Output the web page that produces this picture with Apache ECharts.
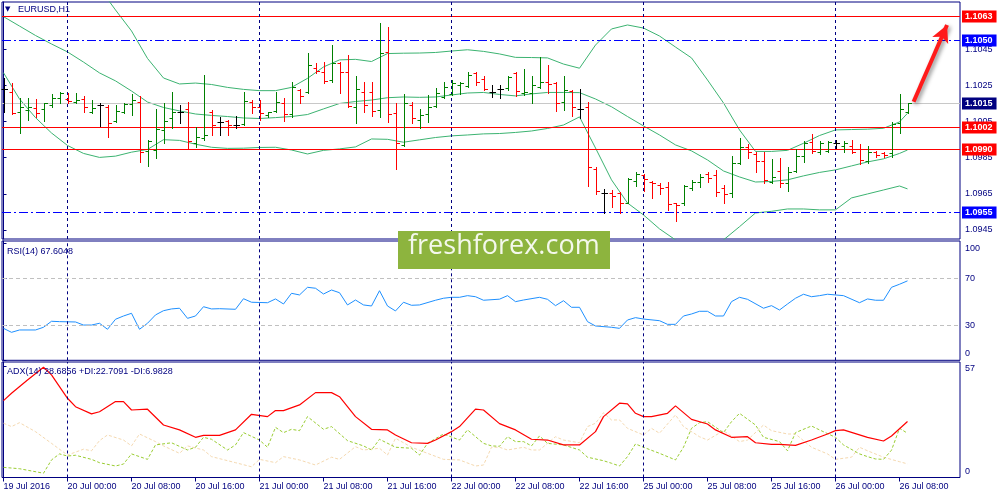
<!DOCTYPE html>
<html><head><meta charset="utf-8">
<script src="https://cdn.jsdelivr.net/npm/echarts@6/dist/echarts.min.js"></script>
<style>html,body{margin:0;padding:0;background:#fff}#c{width:1000px;height:500px}</style>
</head><body><div id="c"></div>
<script>
// ---------- data ----------
const timeLabels = ['19 Jul 2016','20 Jul 00:00','20 Jul 08:00','20 Jul 16:00','21 Jul 00:00','21 Jul 08:00','21 Jul 16:00','22 Jul 00:00','22 Jul 08:00','22 Jul 16:00','25 Jul 00:00','25 Jul 08:00','25 Jul 16:00','26 Jul 00:00','26 Jul 08:00'];
const timeLabelIdx = [0,8,16,24,32,40,48,56,64,72,80,88,96,104,112];
const dayStartIdx = [8,32,56,80,104];

const opens = [1.10228,1.10214,1.10102,1.10113,1.10123,1.10117,1.10141,1.10178,1.10172,1.10159,1.10172,1.10104,1.10141,1.10128,1.10052,1.10104,1.10146,1.10159,1.09888,1.09892,1.10003,1.10067,1.10104,1.10117,1.09933,1.09961,1.10104,1.10049,1.10054,1.10030,1.10036,1.10159,1.10127,1.10086,1.10105,1.10152,1.10091,1.10224,1.10214,1.10344,1.10325,1.10279,1.10375,1.10325,1.10128,1.10214,1.10214,1.10113,1.10435,1.10095,1.09920,1.10141,1.10058,1.10091,1.10135,1.10187,1.10202,1.10251,1.10248,1.10319,1.10283,1.10214,1.10228,1.10233,1.10319,1.10209,1.10209,1.10239,1.10270,1.10261,1.10159,1.10220,1.10117,1.10128,1.09786,1.09656,1.09653,1.09656,1.09601,1.09723,1.09754,1.09717,1.09699,1.09689,1.09601,1.09598,1.09681,1.09717,1.09760,1.09751,1.09681,1.09656,1.09822,1.09907,1.09870,1.09833,1.09717,1.09778,1.09708,1.09778,1.09859,1.09938,1.09883,1.09888,1.09933,1.09914,1.09914,1.09896,1.09833,1.09883,1.09877,1.09877,1.10040,1.10104];
const highs = [1.10288,1.10261,1.10178,1.10178,1.10172,1.10154,1.10200,1.10214,1.10206,1.10209,1.10191,1.10168,1.10150,1.10141,1.10141,1.10150,1.10202,1.10191,1.09947,1.10117,1.10154,1.10214,1.10141,1.10159,1.10021,1.10307,1.10113,1.10073,1.10058,1.10080,1.10214,1.10168,1.10166,1.10104,1.10214,1.10178,1.10270,1.10231,1.10430,1.10375,1.10380,1.10472,1.10380,1.10417,1.10301,1.10270,1.10270,1.10596,1.10573,1.10154,1.10202,1.10159,1.10117,1.10196,1.10233,1.10270,1.10279,1.10270,1.10325,1.10325,1.10301,1.10251,1.10251,1.10301,1.10325,1.10338,1.10301,1.10404,1.10362,1.10270,1.10301,1.10224,1.10228,1.10159,1.09800,1.09675,1.09671,1.09662,1.09736,1.09772,1.09760,1.09723,1.09708,1.09717,1.09601,1.09699,1.09726,1.09760,1.09772,1.09779,1.09699,1.09859,1.09957,1.09925,1.09883,1.09883,1.09841,1.09846,1.09797,1.09896,1.09944,1.09981,1.09944,1.09944,1.09947,1.09944,1.09947,1.09925,1.09914,1.09888,1.09883,1.10049,1.10202,1.10154];
const lows = [1.10104,1.10091,1.09988,1.10058,1.10076,1.10054,1.10131,1.10154,1.10150,1.10150,1.10104,1.10098,1.10025,1.09966,1.10049,1.10098,1.10086,1.09828,1.09804,1.09848,1.09933,1.10012,1.10040,1.09896,1.09907,1.09947,1.09975,1.09975,1.09975,1.10012,1.10030,1.10097,1.10058,1.10077,1.10102,1.10055,1.10076,1.10154,1.10209,1.10316,1.10261,1.10270,1.10209,1.10128,1.10040,1.10104,1.10080,1.10076,1.10049,1.09787,1.09914,1.10040,1.10012,1.10049,1.10128,1.10178,1.10196,1.10202,1.10242,1.10251,1.10224,1.10187,1.10178,1.10224,1.10191,1.10196,1.10150,1.10233,1.10209,1.10109,1.10113,1.10080,1.10067,1.09693,1.09649,1.09546,1.09576,1.09546,1.09598,1.09693,1.09667,1.09625,1.09649,1.09561,1.09502,1.09588,1.09671,1.09686,1.09717,1.09635,1.09598,1.09634,1.09815,1.09846,1.09772,1.09708,1.09708,1.09686,1.09667,1.09772,1.09828,1.09877,1.09870,1.09883,1.09902,1.09883,1.09877,1.09815,1.09819,1.09852,1.09855,1.09852,1.09988,1.10098];
const closes = [1.10228,1.10098,1.10131,1.10128,1.10095,1.10150,1.10178,1.10206,1.10165,1.10168,1.10128,1.10123,1.10141,1.10043,1.10109,1.10144,1.10168,1.09883,1.09944,1.10008,1.10054,1.10104,1.10104,1.09944,1.09962,1.09975,1.10030,1.10049,1.10030,1.10030,1.10165,1.10127,1.10098,1.10102,1.10159,1.10091,1.10240,1.10191,1.10362,1.10331,1.10273,1.10375,1.10325,1.10135,1.10228,1.10141,1.10109,1.10427,1.10091,1.09933,1.10150,1.10067,1.10086,1.10131,1.10209,1.10242,1.10261,1.10261,1.10307,1.10270,1.10228,1.10214,1.10228,1.10297,1.10220,1.10214,1.10251,1.10270,1.10257,1.10154,1.10224,1.10128,1.10117,1.09800,1.09667,1.09656,1.09638,1.09601,1.09730,1.09760,1.09730,1.09708,1.09681,1.09594,1.09590,1.09693,1.09717,1.09745,1.09738,1.09662,1.09649,1.09819,1.09907,1.09883,1.09833,1.09726,1.09741,1.09708,1.09772,1.09859,1.09933,1.09888,1.09933,1.09938,1.09933,1.09933,1.09883,1.09837,1.09883,1.09865,1.09865,1.10036,1.10117,1.10150];

const bbIdx = [0,2,4,6,8,10,12,14,16,18,20,22,24,26,28,30,32,34,36,38,40,42,44,46,48,50,52,54,56,58,60,62,64,66,68,70,72,74,76,78,80,82,84,86,88,90,92,94,96,98,100,102,104,106,108,110,112,113];
const bbUpper = [1.10937,1.10981,1.10975,1.10970,1.10948,1.10887,1.10787,1.10666,1.10550,1.10398,1.10290,1.10257,1.10262,1.10254,1.10238,1.10227,1.10220,1.10220,1.10238,1.10288,1.10351,1.10390,1.10393,1.10381,1.10425,1.10427,1.10428,1.10431,1.10439,1.10446,1.10437,1.10423,1.10404,1.10403,1.10401,1.10367,1.10344,1.10472,1.10561,1.10583,1.10566,1.10522,1.10461,1.10401,1.10279,1.10152,1.10003,1.09884,1.09884,1.09890,1.09929,1.09972,1.10003,1.10005,1.10007,1.10012,1.10047,1.10095];
const bbMiddle = [1.10629,1.10577,1.10525,1.10478,1.10434,1.10378,1.10318,1.10274,1.10218,1.10157,1.10127,1.10108,1.10091,1.10083,1.10077,1.10069,1.10066,1.10071,1.10077,1.10088,1.10119,1.10149,1.10160,1.10168,1.10181,1.10185,1.10183,1.10185,1.10196,1.10207,1.10210,1.10199,1.10191,1.10202,1.10210,1.10210,1.10209,1.10174,1.10131,1.10077,1.10025,1.09975,1.09920,1.09887,1.09837,1.09776,1.09743,1.09715,1.09718,1.09727,1.09749,1.09768,1.09782,1.09804,1.09826,1.09843,1.09873,1.09892];
const bbLower = [1.10319,1.10174,1.10071,1.09986,1.09917,1.09873,1.09851,1.09858,1.09880,1.09895,1.09949,1.09945,1.09924,1.09907,1.09901,1.09902,1.09906,1.09907,1.09892,1.09870,1.09890,1.09898,1.09909,1.09953,1.09951,1.09935,1.09948,1.09961,1.09970,1.09975,1.09981,1.09983,1.09989,1.09997,1.10011,1.10030,1.10075,1.09903,1.09727,1.09599,1.09533,1.09456,1.09395,1.09362,1.09351,1.09395,1.09468,1.09544,1.09553,1.09566,1.09566,1.09561,1.09561,1.09627,1.09649,1.09671,1.09693,1.09677];

const rsiPoints = [[0,27.2],[1,23.8],[2,25.8],[4,25.8],[5,28.1],[6,33.2],[7,32.9],[9,32.6],[10,30.0],[11,30.0],[12,31.5],[13,26.4],[14,34.9],[15,37.7],[16,40.0],[17,26.4],[18,31.5],[19,38.6],[20,42.2],[21,43.7],[22,44.3],[23,35.7],[24,37.7],[25,45.6],[26,43.7],[27,43.9],[29,43.4],[30,52.4],[31,49.4],[33,49.0],[34,52.2],[35,47.9],[36,57.0],[37,55.6],[38,62.1],[39,61.3],[40,56.4],[41,59.8],[42,57.5],[43,47.1],[44,51.3],[45,47.1],[46,46.2],[47,59.2],[48,46.2],[49,42.0],[50,49.4],[51,46.8],[52,47.1],[54,51.1],[55,52.8],[56,53.6],[57,53.6],[58,55.0],[59,54.1],[60,51.1],[62,52.0],[63,55.0],[64,49.9],[65,51.3],[67,53.6],[68,51.9],[69,46.5],[70,50.7],[71,45.1],[72,45.1],[73,32.9],[74,29.2],[76,28.1],[77,27.2],[78,34.3],[79,36.3],[80,35.1],[82,33.7],[83,30.6],[84,30.6],[85,37.7],[86,39.4],[87,41.7],[88,41.7],[89,37.7],[90,37.7],[91,49.9],[92,53.6],[93,51.9],[95,44.3],[96,46.5],[97,42.8],[98,47.9],[99,52.8],[100,56.2],[101,54.1],[102,55.0],[103,56.2],[104,55.6],[105,55.0],[107,49.0],[108,52.2],[109,51.1],[110,51.1],[111,62.1],[112,64.7],[113,67.6]];

const adxPoints = [[0,39.4],[1,43.2],[3,50],[5,56.5],[6,52.6],[8,40.6],[9,36.3],[11,32.6],[12,33.7],[14,38.9],[15,38.9],[16,34.6],[18,35.0],[20,26.9],[22,24.4],[24,20.6],[25,21.6],[27,21.6],[29,24.4],[31,32.4],[33,31.2],[34,34.3],[35,34.3],[37,37.2],[39,43.5],[41,43.5],[42,41.4],[44,31.2],[46,24.7],[48,24.4],[49,21.8],[51,17.8],[53,17.5],[54,19.2],[56,23.5],[57,26.1],[59,35.0],[60,34.6],[62,27.6],[64,24.4],[66,19.6],[68,19.2],[70,16.7],[72,16.7],[74,23.5],[75,31.2],[77,38.1],[78,37.7],[79,32.9],[80,31.2],[81,31.2],[83,32.9],[84,36.7],[86,29.8],[88,27.4],[89,24.4],[91,20.6],[93,20.9],[94,17.8],[96,17.0],[97,17.0],[99,16.5],[101,19.2],[103,22.3],[104,24.0],[105,24.4],[108,20.6],[110,18.7],[111,21.3],[113,28.7]];
const plusDiPoints = [[0,5.2],[2,4.5],[5,2.2],[6,9.0],[7,12.1],[8,11.0],[9,11.4],[11,9.3],[12,7.6],[14,5.9],[15,6.9],[16,12.1],[18,9.3],[19,16.7],[21,17.8],[23,14.1],[24,15.5],[25,20.6],[26,19.6],[28,14.1],[29,16.7],[30,23.0],[32,19.2],[33,15.5],[34,25.7],[35,23.0],[36,24.7],[37,24.0],[38,31.2],[40,24.7],[41,26.1],[43,18.9],[45,16.2],[46,14.1],[47,19.6],[49,15.5],[51,15.0],[52,11.5],[53,17.5],[55,22.3],[57,19.2],[58,24.4],[60,17.5],[61,16.2],[62,16.0],[63,20.9],[64,18.4],[65,18.4],[66,16.2],[67,21.3],[68,17.5],[70,16.7],[72,14.1],[73,10.4],[75,8.6],[76,7.3],[77,5.9],[78,10.7],[79,17.2],[80,15.5],[82,12.4],[84,9.0],[85,15.5],[86,25.2],[87,28.1],[88,28.6],[90,23.0],[91,28.6],[92,32.9],[94,26.9],[95,20.6],[97,18.4],[98,13.7],[99,23.0],[101,26.4],[102,24.4],[104,20.6],[105,16.7],[107,12.1],[108,10.7],[109,9.5],[110,9.3],[111,14.0],[112,25.2],[113,22.7]];
const minusDiPoints = [[0,27.8],[1,26.1],[2,28.1],[4,23.5],[6,17.5],[8,11.5],[10,14.5],[11,13.7],[12,18.9],[13,21.8],[15,19.2],[16,16.2],[17,22.3],[19,18.4],[20,16.2],[22,12.4],[23,16.2],[25,14.1],[26,10.7],[29,7.6],[31,5.5],[32,9.3],[34,7.6],[35,10.7],[37,9.0],[39,6.4],[41,10.4],[42,9.3],[44,15.8],[45,14.1],[47,15.0],[48,11.5],[49,20.1],[51,15.5],[53,12.4],[55,9.3],[57,9.0],[59,5.9],[60,6.4],[61,15.5],[62,15.5],[63,14.1],[65,15.5],[66,14.1],[67,14.1],[69,20.9],[70,19.2],[72,17.8],[73,26.1],[74,27.8],[75,33.2],[76,29.5],[77,29.5],[78,25.2],[80,21.8],[81,25.2],[82,22.7],[84,32.1],[85,26.1],[87,20.9],[88,19.2],[90,24.0],[92,18.4],[93,19.2],[95,26.9],[96,24.0],[98,22.3],[99,22.3],[101,15.5],[103,12.1],[104,9.3],[106,10.4],[107,15.5],[108,13.7],[110,10.4],[112,8.1],[113,6.98]];

const priceTicks = [1.0945,1.0965,1.0985,1.1005,1.1025,1.1045];
const redLevels = [1.1063,1.1002,1.0990];
const blueLevels = [1.1050,1.0955];
const lastPrice = 1.1015;
const rsiLevels = [30,70];
const rsiTicks = [0,30,70,100];
const adxTicks = [0,57];
const arrowFrom = [113.76,1.10159];
const arrowTo = [117.94,1.10583];

// ---------- chart ----------
const NAVY = '#000080';
const FONT = 'Liberation Sans';
const XMIN = -0.1875, XMAX = 119.5625;
const chart = echarts.init(document.getElementById('c'), null, {renderer:'canvas', width:1000, height:500});

const ohlc = opens.map((o,i)=>[i,o,highs[i],lows[i],closes[i]]);
const pairs = (idx, vals) => idx.map((x,k)=>[x, vals[k]]);

function renderBar(params, api){
  const i = api.value(0), o = api.value(1), h = api.value(2), l = api.value(3), c = api.value(4);
  const ph = api.coord([i,h]), pl = api.coord([i,l]), po = api.coord([i,o]), pc = api.coord([i,c]);
  const x = Math.round(ph[0]) + 0.5;
  const color = c > o ? '#008000' : (c < o ? '#ff0000' : '#000000');
  const yo = Math.round(po[1]) + 0.5, yc = Math.round(pc[1]) + 0.5;
  return {type:'group', children:[
    {type:'line', shape:{x1:x, y1:Math.round(ph[1]), x2:x, y2:Math.round(pl[1])+1}, style:{stroke:color, lineWidth:1}},
    {type:'line', shape:{x1:x-3, y1:yo, x2:x, y2:yo}, style:{stroke:color, lineWidth:1}},
    {type:'line', shape:{x1:x, y1:yc, x2:x+3.5, y2:yc}, style:{stroke:color, lineWidth:1}}
  ]};
}

// horizontal price levels (kind: 0 = last price, 1 = red level, 2 = blue level)
const levelData = [[lastPrice,0]].concat(redLevels.map(v=>[v,1])).concat(blueLevels.map(v=>[v,2]));
const levelLook = [
  {stroke:'#c8c8c8', dash:null, bg:NAVY},
  {stroke:'#ff0000', dash:null, bg:'#ff0000'},
  {stroke:'#0000ff', dash:[9,3,2,3], bg:'#0000ff'}
];
function renderLevel(params, api){
  const v = api.value(0), look = levelLook[api.value(1)];
  const cs = params.coordSys;
  const y = Math.round(api.coord([0, v])[1]) + 0.5;
  const x0 = Math.round(cs.x), x1 = Math.round(cs.x + cs.width);
  return {type:'group', children:[
    {type:'line', shape:{x1:x0, y1:y, x2:x1, y2:y}, style:{stroke:look.stroke, lineWidth:1, lineDash:look.dash}},
    {type:'text', x:x1 + 2, y:y, style:{text:v.toFixed(4), fill:'#ffffff', backgroundColor:look.bg,
      padding:[2,4,1,3], font:'bold 9px "Liberation Sans"', verticalAlign:'middle', align:'left'}}
  ]};
}

function xAxisCfg(gi, withLabels){
  return {
    type:'value', gridIndex:gi, min:XMIN, max:XMAX,
    splitLine:{show:false}, axisLine:{show:false},
    axisTick: withLabels ? {show:true, customValues:timeLabelIdx, length:4, lineStyle:{color:NAVY}} : {show:false},
    axisLabel: withLabels ? {show:true, customValues:timeLabelIdx,
      formatter: v => timeLabels[timeLabelIdx.indexOf(Math.round(v))] || '',
      align:'left', color:NAVY, fontFamily:FONT, fontSize:9, margin:5} : {show:false}
  };
}
const dayLineItems = dayStartIdx.map(v => ({xAxis:v, lineStyle:{color:NAVY, type:[3,3], width:1}}));

const lineBase = {type:'line', showSymbol:false, silent:true, animation:false, smooth:false};
const mlBase = {silent:true, symbol:['none','none'], precision:6, animation:false, emphasis:{disabled:true}};

const option = {
  animation:false,
  backgroundColor:'#ffffff',
  grid:[
    {left:2, right:40, top:2, height:237, show:true, borderColor:NAVY, borderWidth:1, outerBoundsMode:'none'},
    {left:2, right:40, top:241, height:119.3, show:true, borderColor:NAVY, borderWidth:1, outerBoundsMode:'none'},
    {left:2, right:40, top:362, height:115.5, show:true, borderColor:NAVY, borderWidth:1, outerBoundsMode:'none'}
  ],
  xAxis:[xAxisCfg(0,false), xAxisCfg(1,false), xAxisCfg(2,true)],
  yAxis:[
    {type:'value', gridIndex:0, position:'right', min:1.0940, max:1.1071, splitLine:{show:false},
     axisLine:{show:true, lineStyle:{color:NAVY}},
     axisTick:{show:true, customValues:priceTicks, length:3, lineStyle:{color:NAVY}},
     axisLabel:{customValues:priceTicks, formatter:v=>v.toFixed(4), color:NAVY, fontFamily:FONT, fontSize:9, margin:5}},
    {type:'value', gridIndex:1, position:'right', min:0, max:101.5, splitLine:{show:false},
     axisLine:{show:true, lineStyle:{color:NAVY}},
     axisTick:{show:true, customValues:rsiTicks, length:3, lineStyle:{color:NAVY}},
     axisLabel:{customValues:rsiTicks, color:NAVY, fontFamily:FONT, fontSize:9, margin:5,
       formatter:v => v === 100 ? '{hi|100}' : (v === 0 ? '{lo|0}' : '{m|' + v + '}'),
       rich:{hi:{padding:[12,0,0,0], color:NAVY, fontFamily:FONT, fontSize:9}, lo:{padding:[0,0,14,0], color:NAVY, fontFamily:FONT, fontSize:9}, m:{color:NAVY, fontFamily:FONT, fontSize:9}}}},
    {type:'value', gridIndex:2, position:'right', min:0, max:59.2, splitLine:{show:false},
     axisLine:{show:true, lineStyle:{color:NAVY}},
     axisTick:{show:true, customValues:adxTicks, length:3, lineStyle:{color:NAVY}},
     axisLabel:{customValues:adxTicks, color:NAVY, fontFamily:FONT, fontSize:9, margin:5,
       formatter:v => v === 0 ? '{lo|0}' : '{hi|' + v + '}',
       rich:{hi:{padding:[5,0,0,0], color:NAVY, fontFamily:FONT, fontSize:9}, lo:{padding:[0,0,11,0], color:NAVY, fontFamily:FONT, fontSize:9}}}}
  ],
  series:[
    Object.assign({}, lineBase, {name:'bbLower', xAxisIndex:0, yAxisIndex:0, z:2,
      data:pairs(bbIdx, bbLower), lineStyle:{color:'#3cb371', width:1},
      markLine:Object.assign({}, mlBase, {label:{show:false}, data:dayLineItems})}),
    Object.assign({}, lineBase, {name:'bbMiddle', xAxisIndex:0, yAxisIndex:0, z:3,
      data:pairs(bbIdx, bbMiddle), lineStyle:{color:'#3cb371', width:1}}),
    Object.assign({}, lineBase, {name:'bbUpper', xAxisIndex:0, yAxisIndex:0, z:3,
      data:pairs(bbIdx, bbUpper), lineStyle:{color:'#3cb371', width:1}}),
    {type:'custom', name:'levels', xAxisIndex:0, yAxisIndex:0, z:4, silent:true, animation:false, clip:false,
      renderItem:renderLevel, data:levelData, encode:{y:0}},
    {type:'custom', name:'EURUSD', xAxisIndex:0, yAxisIndex:0, z:5, silent:true, animation:false,
      renderItem:renderBar, data:ohlc, encode:{x:0, y:[1,2,3,4]},
      markLine:Object.assign({}, mlBase, {symbol:['none','arrow'], symbolSize:[13,17], label:{show:false},
        lineStyle:{color:'#ff1a1a', width:4, type:'solid', shadowColor:'rgba(0,0,0,0.45)', shadowBlur:4, shadowOffsetX:2, shadowOffsetY:2},
        data:[[{coord:arrowFrom},{coord:arrowTo}]]})},
    Object.assign({}, lineBase, {name:'RSI', xAxisIndex:1, yAxisIndex:1, z:3,
      data:rsiPoints, lineStyle:{color:'#1e90ff', width:1},
      markLine:Object.assign({}, mlBase, {label:{show:false},
        data:rsiLevels.map(v => ({yAxis:v, lineStyle:{color:'#c0c0c0', type:[4,3], width:1}})).concat(dayLineItems)})}),
    Object.assign({}, lineBase, {name:'-DI', xAxisIndex:2, yAxisIndex:2, z:2,
      data:minusDiPoints, lineStyle:{color:'#f5d9b0', width:1, type:[3,2]},
      markLine:Object.assign({}, mlBase, {label:{show:false}, data:dayLineItems})}),
    Object.assign({}, lineBase, {name:'+DI', xAxisIndex:2, yAxisIndex:2, z:3,
      data:plusDiPoints, lineStyle:{color:'#9acd32', width:1, type:[3,2]}}),
    Object.assign({}, lineBase, {name:'ADX', xAxisIndex:2, yAxisIndex:2, z:4,
      data:adxPoints, lineStyle:{color:'#ff0000', width:1.2}})
  ],
  graphic:[
    {type:'text', z:100, left:5, top:6, style:{text:'▼', fill:NAVY, font:'7px "DejaVu Sans"'}},
    {type:'text', z:100, left:18, top:5, style:{text:'EURUSD,H1', fill:NAVY, font:'9px "Liberation Sans"'}},
    {type:'text', z:100, left:7, top:247, style:{text:'RSI(14) 67.6048', fill:NAVY, font:'9px "Liberation Sans"'}},
    {type:'text', z:100, left:7, top:367, style:{text:'ADX(14) 28.6856 +DI:22.7091 -DI:6.9828', fill:NAVY, font:'9px "Liberation Sans"'}},
    {type:'rect', z:100, left:398, top:231, shape:{width:212, height:38}, style:{fill:'#8db43e'}},
    {type:'text', z:101, left:408, top:233, style:{text:'freshforex.com', fill:'#f4f8ec', font:'27px "Open Sans"'}}
  ]
};
chart.setOption(option);
</script>
</body></html>
